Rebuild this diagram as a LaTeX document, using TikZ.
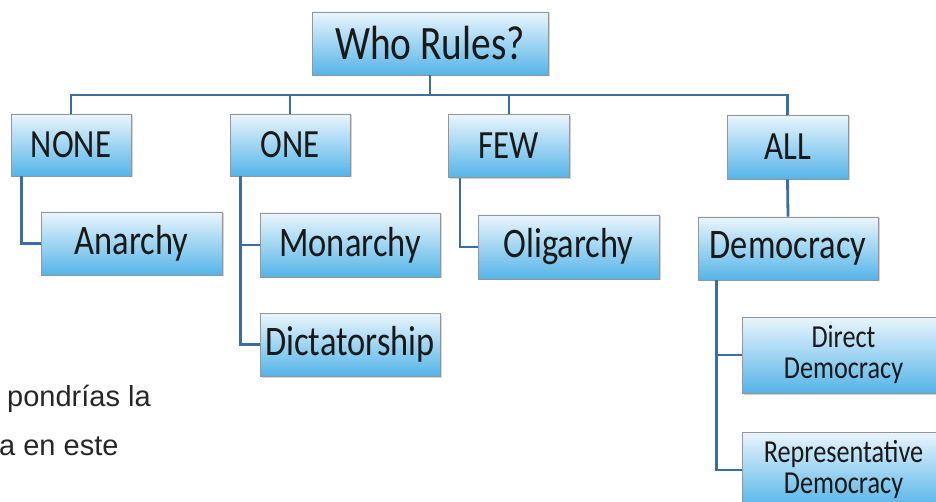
\documentclass[tikz,border=0pt]{standalone}
\usepackage{fontspec}
\setmainfont{Liberation Sans}
\newfontfamily\boxfont[FakeStretch=0.82]{Carlito}
\usetikzlibrary{shadows}

\definecolor{boxtop}{RGB}{234,245,252}
\definecolor{boxbottom}{RGB}{84,180,232}
\definecolor{boxline}{RGB}{150,150,150}
\definecolor{linkblue}{RGB}{58,110,160}

\tikzset{
    box/.style={rectangle, draw=boxline, line width=0.9pt, top color=boxtop, bottom color=boxbottom,
        inner sep=0pt, align=center, text=black!90,
        drop shadow={shadow xshift=1.5pt, shadow yshift=-1.5pt, opacity=0.35}},
    link/.style={draw=linkblue, line width=2.8pt}
}

\begin{document}
\begin{tikzpicture}[x=1pt, y=-1pt]
        \useasboundingbox (0,0) rectangle (936,502);

        \node[box, minimum width=236pt, minimum height=63pt, font=\boxfont\fontsize{48}{52}\selectfont] (rules) at (430, 43.5) {Who Rules?};

        \node[box, minimum width=120pt, minimum height=62pt, font=\boxfont\fontsize{40}{44}\selectfont] (none) at (71, 145) {NONE};
        \node[box, minimum width=120pt, minimum height=62pt, font=\boxfont\fontsize{40}{44}\selectfont] (one) at (290, 145) {ONE};
        \node[box, minimum width=121pt, minimum height=63pt, font=\boxfont\fontsize{40}{44}\selectfont] (few) at (509, 146) {FEW};
        \node[box, minimum width=121pt, minimum height=64pt, font=\boxfont\fontsize{40}{44}\selectfont] (all) at (787.5, 147) {ALL};

        \node[box, minimum width=181pt, minimum height=63pt, font=\boxfont\fontsize{42}{46}\selectfont] (anarchy) at (131.5, 243.5) {Anarchy};
        \node[box, minimum width=180pt, minimum height=64pt, font=\boxfont\fontsize{42}{46}\selectfont] (monarchy) at (350, 245) {Monarchy};
        \node[box, minimum width=180pt, minimum height=63pt, font=\boxfont\fontsize{42}{46}\selectfont] (dictatorship) at (350, 344.5) {Dictatorship};
        \node[box, minimum width=181pt, minimum height=64pt, font=\boxfont\fontsize{42}{46}\selectfont] (oligarchy) at (568.5, 247) {Oligarchy};
        \node[box, minimum width=180pt, minimum height=63pt, font=\boxfont\fontsize{42}{46}\selectfont] (democracy) at (788, 248.5) {Democracy};

        \node[box, minimum width=203pt, minimum height=76pt, font=\boxfont\fontsize{32}{31}\selectfont] (direct) at (843.5, 355) {Direct\\Democracy};
        \node[box, minimum width=203pt, minimum height=76pt, font=\boxfont\fontsize{32}{31}\selectfont] (representative) at (843.5, 470) {Representative\\Democracy};

        \coordinate (bus) at (430, 95);
        \draw[link] (rules.south) -- (bus);
        \draw[link] (none.north) |- (bus) -| (all.north);
        \draw[link] (one.north) -- (one.north |- bus);
        \draw[link] (few.north) -- (few.north |- bus);

        \draw[link] ([xshift=11pt]none.south west) |- (anarchy.west);
        \draw[link] ([xshift=11pt]one.south west) |- (monarchy.west);
        \draw[link] ([xshift=11pt]one.south west) |- (dictatorship.west);
        \draw[link] ([xshift=12pt]few.south west) |- (oligarchy.west);
        \draw[link] (all.south) -- (democracy.north);
        \draw[link] ([xshift=19pt]democracy.south west) |- (direct.west);
        \draw[link] ([xshift=19pt]democracy.south west) |- (representative.west);

        \node[anchor=base west, inner sep=0pt, font=\fontsize{29}{34}\selectfont, text=black!85] (line1) at (7, 406) {pondrías la};
        \node[anchor=base west, inner sep=0pt, font=\fontsize{29}{34}\selectfont, text=black!85] (line2) at (-1, 455) {a en este};
    \end{tikzpicture}
\end{document}
